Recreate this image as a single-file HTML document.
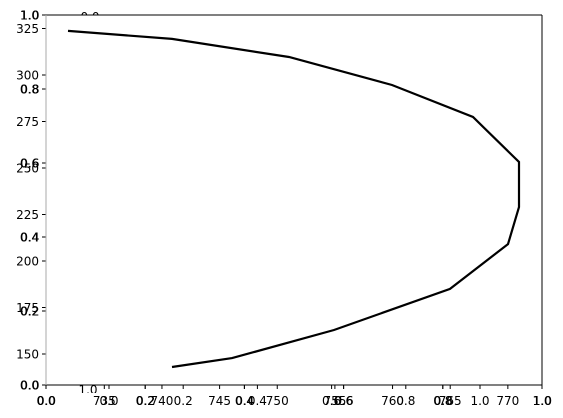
<!DOCTYPE html>
<html><head><meta charset="utf-8"><style>
html,body{margin:0;padding:0;background:#fff}
svg{display:block;font-family:"DejaVu Sans","Liberation Sans",sans-serif;font-size:12px}
</style></head><body>
<svg id="chart" width="563" height="418" viewBox="0 0 563 418" xmlns="http://www.w3.org/2000/svg">
<defs>
<clipPath id="clipTop"><rect x="0" y="0" width="563" height="15"/></clipPath>
<clipPath id="clipBot"><rect x="0" y="385" width="563" height="8"/></clipPath>
</defs>
<rect x="46" y="15" width="496" height="370" fill="#fff" stroke="none"/>
<g id="overlay"></g>
<g id="main"></g>
<path id="line" fill="none" stroke="#000" stroke-width="2.2"/>
<text x="90" y="21" text-anchor="middle" clip-path="url(#clipTop)">0.0</text>
<text x="88" y="394" text-anchor="middle" clip-path="url(#clipBot)">1.0</text>
<line x1="46" y1="15" x2="542" y2="15" stroke="#000" stroke-width="1"/>
<line x1="542" y1="15" x2="542" y2="385" stroke="#000" stroke-width="1"/>
<line x1="46" y1="385" x2="542" y2="385" stroke="#000" stroke-width="1"/>
<line x1="46" y1="15" x2="46" y2="385" stroke="#aaa" stroke-width="1"/>
</svg>
<script>
const xValues = [731.85, 740.87, 751.02, 759.95, 766.98, 770.97, 770.97, 770.01, 764.98, 754.92, 746.08, 740.87];
const yValues = [323.7, 319.4, 309.7, 294.6, 277.4, 253.2, 229, 209.1, 185, 162.9, 147.8, 143];
const xTicks = [735, 740, 745, 750, 755, 760, 765, 770];
const yTicks = [150, 175, 200, 225, 250, 275, 300, 325];
const unitTicks = [0, 0.2, 0.4, 0.6, 0.8, 1.0];
const extraXTicks = [0, 0.2, 0.4, 0.6, 0.8, 1.0];

const NS = "http://www.w3.org/2000/svg";
const xs = v => 104.3 + (v - 735) * 11.53;
const ys = v => 354 - (v - 150) * 1.86;
const ux = v => 46 + v * 496;
const uy = v => 385 - v * 370;
const ex = v => 109 + v * 371;

function mk(tag, attrs, parent, txt) {
  const el = document.createElementNS(NS, tag);
  for (const k in attrs) el.setAttribute(k, attrs[k]);
  if (txt !== undefined) el.textContent = txt;
  parent.appendChild(el);
  return el;
}
const main = document.getElementById('main');
const ov = document.getElementById('overlay');

let d = '';
xValues.forEach((v, i) => { d += (i ? 'L' : 'M') + xs(v).toFixed(1) + ',' + ys(yValues[i]).toFixed(1); });
document.getElementById('line').setAttribute('d', d);

unitTicks.forEach(v => {
  for (let k = 0; k < 2; k++) {
    const l = mk('line', {x1: 42, x2: 46, y1: uy(v), y2: uy(v), stroke: '#000'}, ov);
    
    
    const t = mk('text', {x: 39 + k*0.5, y: uy(v) + 4.5, 'text-anchor': 'end'}, ov, v.toFixed(1));
    
    
    const l2 = mk('line', {x1: ux(v), x2: ux(v), y1: 385, y2: 389, stroke: '#000'}, ov);
    
    
    const t2 = mk('text', {x: ux(v) + k*0.5, y: 405, 'text-anchor': 'middle'}, ov, v.toFixed(1));
    
    
  }
});
extraXTicks.forEach(v => {
  const l = mk('line', {x1: ex(v), x2: ex(v), y1: 385, y2: 389, stroke: '#000'}, ov);
  
  
  const t = mk('text', {x: ex(v), y: 405, 'text-anchor': 'middle'}, ov, v.toFixed(1));
  
  
});

xTicks.forEach(v => {
  const l = mk('line', {x1: xs(v), x2: xs(v), y1: 385, y2: 389, stroke: '#000'}, main);
  
  
  const t = mk('text', {x: xs(v), y: 405, 'text-anchor': 'middle'}, main, String(v));
  
  
});
yTicks.forEach(v => {
  const l = mk('line', {x1: 42, x2: 46, y1: ys(v), y2: ys(v), stroke: '#000'}, main);
  
  
  const t = mk('text', {x: 39, y: ys(v) + 4.5, 'text-anchor': 'end'}, main, String(v));
  
  
});
</script>
</body></html>
